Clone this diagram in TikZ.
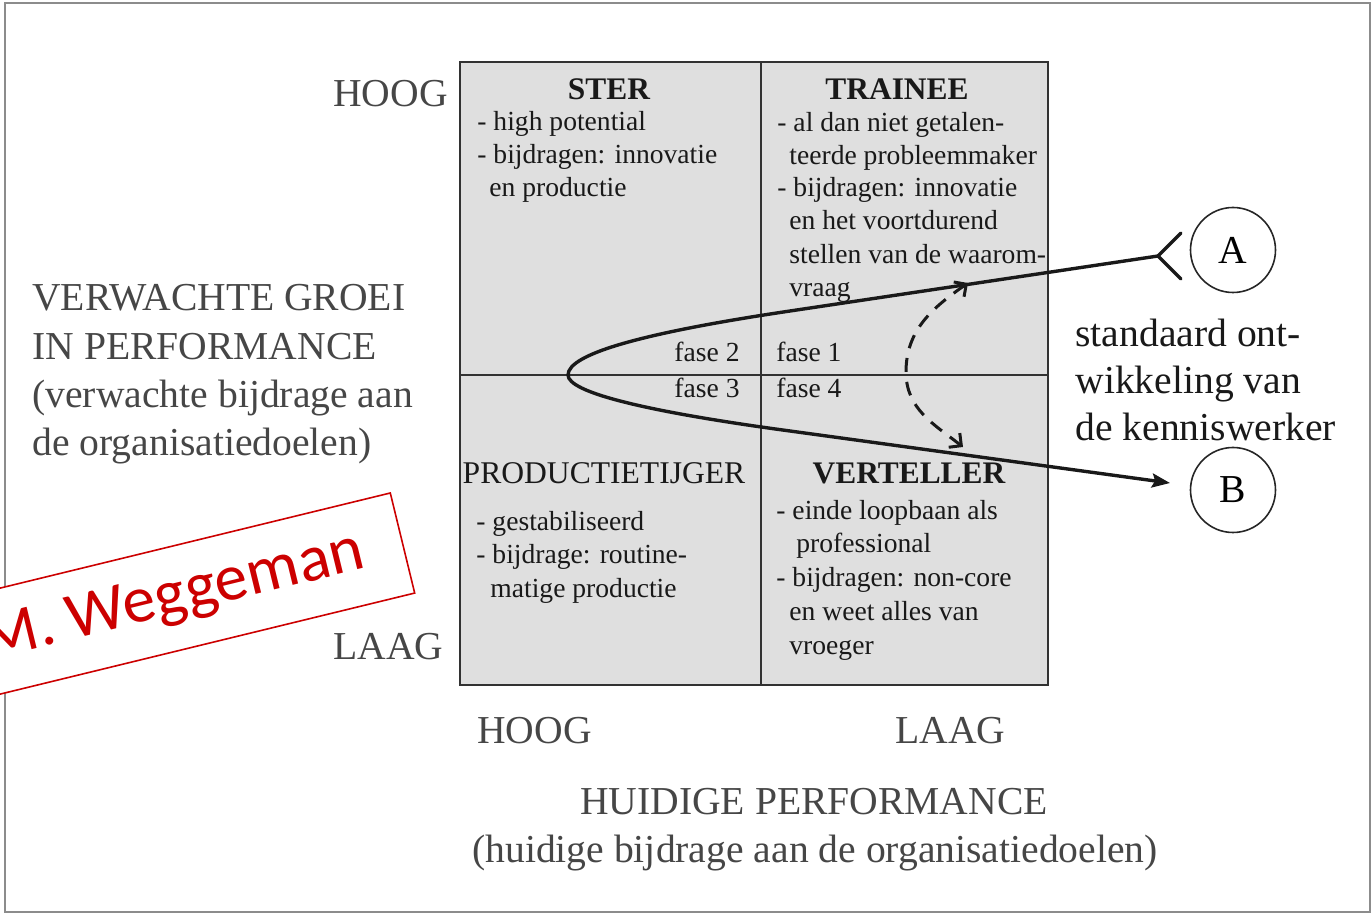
\documentclass[tikz,border=0pt]{standalone}
\usepackage{fontspec}
\setmainfont{Liberation Serif}
\newfontfamily\calib{Carlito}
\usetikzlibrary{arrows.meta}
\definecolor{framegray}{RGB}{140,140,140}
\definecolor{cellfill}{RGB}{223,223,223}
\definecolor{gridline}{RGB}{50,50,50}
\definecolor{axisgray}{RGB}{70,70,70}
\definecolor{celltext}{RGB}{25,25,25}
\definecolor{wred}{RGB}{204,0,0}
\tikzset{
  axis/.style={font=\fontsize{19.8}{24}\selectfont, text=axisgray, inner sep=0pt, anchor=base west},
  axisc/.style={axis, anchor=base},
  side/.style={font=\fontsize{19.8}{24}\selectfont, text=black!90, inner sep=0pt, anchor=base west},
  cell/.style={font=\fontsize{13.8}{16}\selectfont, text=celltext, inner sep=0pt, anchor=base west},
  cellr/.style={cell, anchor=base east},
  head/.style={font=\bfseries\fontsize{15.7}{18}\selectfont, text=celltext, inner sep=0pt, anchor=base},
  headr/.style={font=\fontsize{15.8}{18}\selectfont, text=celltext, inner sep=0pt, anchor=base},
  letter/.style={circle, draw=black!85, line width=0.8pt, minimum size=42.5pt, inner sep=0pt, font=\fontsize{19.8}{24}\selectfont},
  mainline/.style={line width=1.7pt, black!90},
  dashline/.style={line width=1.5pt, black!90, dash pattern=on 7pt off 5pt},
  stamp/.style={rotate=13.7, draw=wred, fill=white, line width=0.8pt, text=wred, minimum width=235.5pt, minimum height=51.5pt, inner sep=0pt, font=\calib\fontsize{33}{38}\selectfont}
}
\begin{document}
\begin{tikzpicture}[x=0.5pt, y=-0.5pt]
\useasboundingbox (0,0) rectangle (1372,914);
\clip (0,0) rectangle (1372,914);
% outer frame
\draw[framegray, line width=1.3pt] (5,3) rectangle (1370,912);
% grid
\fill[cellfill] (460,62) rectangle (1048,685);
\draw[gridline, line width=1pt] (460,62) rectangle (1048,685);
\draw[gridline, line width=1pt] (761,62) -- (761,685);
\draw[gridline, line width=1pt] (460,375) -- (1048,375);
% axis labels
\node[axis] (hoogL) at (333,107) {HOOG};
\node[axis] (laagL) at (333,660) {LAAG};
\node[axis] (hoogB) at (477,743) {HOOG};
\node[axis] (laagB) at (895,743) {LAAG};
\node[axis] (v1) at (32,311) {VERWACHTE GROEI};
\node[axis] (v2) at (32,360) {IN PERFORMANCE};
\node[axis] (v3) at (32,408) {(verwachte bijdrage aan};
\node[axis] (v4) at (32,456) {de organisatiedoelen)};
\node[axisc] (h1) at (814,814) {HUIDIGE PERFORMANCE};
\node[axisc] (h2) at (815,862) {(huidige bijdrage aan de organisatiedoelen)};
% side label
\node[side] (s1) at (1075,347) {standaard ont-};
\node[side] (s2) at (1075,394) {wikkeling van};
\node[side] (s3) at (1075,441) {de kenniswerker};
% STER
\node[head] (ster) at (609,100) {STER};
\node[cell] (st1) at (477,131) {- high potential};
\node[cell] (st2) at (477,164) {- bijdragen: innovatie};
\node[cell] (st3) at (489,197) {en productie};
% TRAINEE
\node[head] (trainee) at (897,100) {TRAINEE};
\node[cell] (tr1) at (777,132) {- al dan niet getalen-};
\node[cell] (tr2) at (789,165) {teerde probleemmaker};
\node[cell] (tr3) at (777,197) {- bijdragen: innovatie};
\node[cell] (tr4) at (789,230) {en het voortdurend};
\node[cell] (tr5) at (789,264) {stellen van de waarom-};
\node[cell] (tr6) at (789,297) {vraag};
% fases
\node[cellr] (f2) at (740,362) {fase 2};
\node[cell] (f1) at (776,362) {fase 1};
\node[cellr] (f3) at (740,398) {fase 3};
\node[cell] (f4) at (776,398) {fase 4};
% PRODUCTIETIJGER
\node[headr] (prod) at (604,484) {PRODUCTIETIJGER};
\node[cell] (p1) at (476,531) {- gestabiliseerd};
\node[cell] (p2) at (476,564) {- bijdrage: routine-};
\node[cell] (p3) at (490,598) {matige productie};
% VERTELLER
\node[head] (vert) at (909,484) {VERTELLER};
\node[cell] (ve1) at (776,520) {- einde loopbaan als};
\node[cell] (ve2) at (796,553) {professional};
\node[cell] (ve3) at (776,587) {- bijdragen: non-core};
\node[cell] (ve4) at (789,621) {en weet alles van};
\node[cell] (ve5) at (789,654) {vroeger};
% circles
\node[letter] (A) at (1233,250) {A};
\node[letter] (B) at (1233,490) {B};
% main curve
\coordinate (Af) at (1158,256);
\coordinate (Bend) at (1170,483);
\draw[mainline, -{Stealth[length=9pt,width=7pt,inset=1.5pt]}] (Af) -- (790,311) .. controls (642,333) and (568,354) .. (568,375) .. controls (568,392) and (642,411) .. (790,431) -- (Bend);
\draw[mainline, line cap=round] (Af) -- ++(23,-23);
\draw[mainline, line cap=round] (Af) -- ++(23,23);
% dashed arrow
\coordinate (D1) at (968,283);
\coordinate (D2) at (963,447);
\draw[dashline, {Straight Barb[length=4.5pt,width=9pt]}-{Straight Barb[length=4.5pt,width=9pt]}] (D1) to[out=215, in=90] (906,372) to[out=-90, in=142] (D2);
% stamp
\node[stamp] (stampbox) at (173.7,598.8) {M. Weggeman};
\end{tikzpicture}
\end{document}
